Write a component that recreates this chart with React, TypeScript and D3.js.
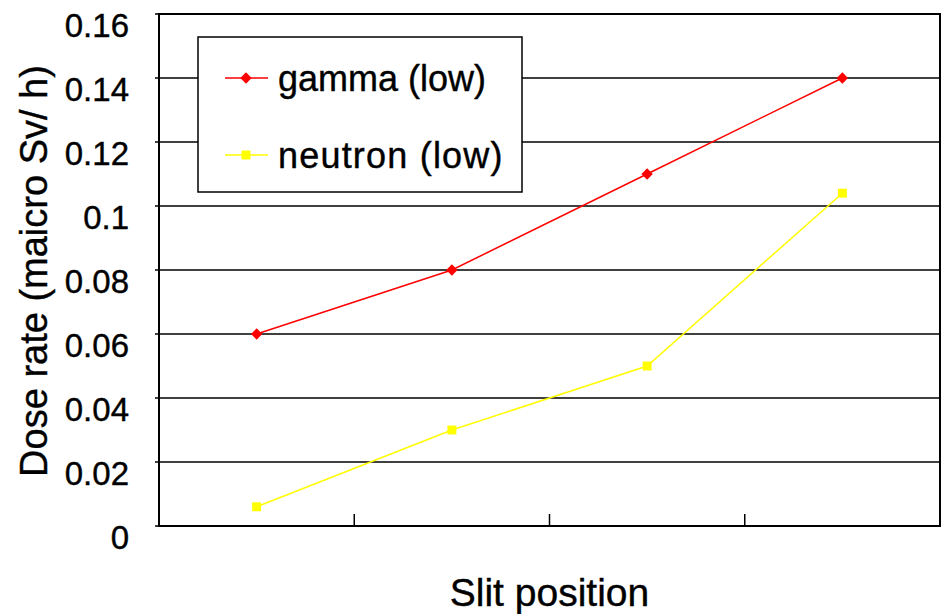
import * as d3 from "d3";

const categories = ["1", "2", "3", "4"];
const gammaLow = [0.06, 0.08, 0.11, 0.14];
const neutronLow = [0.006, 0.03, 0.05, 0.104];
const yTicks = [0, 0.02, 0.04, 0.06, 0.08, 0.1, 0.12, 0.14, 0.16];

const width = 946;
const height = 614;
const margin = { top: 14, right: 6, bottom: 88, left: 159 };
const font = "'Liberation Sans', Arial, sans-serif";

const App = () => {
  const innerW = width - margin.left - margin.right;
  const innerH = height - margin.top - margin.bottom;

  const x = d3.scaleBand<string>().domain(categories).range([0, innerW]);
  const y = d3.scaleLinear().domain([0, 0.16]).range([innerH, 0]);

  const cx = (i: number) => (x(categories[i]) ?? 0) + x.bandwidth() / 2;

  const line = d3
    .line<number>()
    .x((_, i) => cx(i))
    .y((d) => y(d));

  // excel-style diamond: a square turned 45 degrees
  const diamond = d3.symbol().type(d3.symbolSquare).size(64)();
  const square = d3.symbol().type(d3.symbolSquare).size(80)();

  // slight stroke to mimic the heavier text of the original
  const textStyle = { stroke: "#000", strokeWidth: 0.4 };

  return (
    <svg width={width} height={height} style={{ position: "absolute", left: 0, top: 0 }}>
      <rect width={width} height={height} fill="#fff" />
      <g transform={`translate(${margin.left},${margin.top})`}>
        {yTicks.map((t) => (
          <g key={t}>
            <line x1={-4} x2={innerW} y1={y(t)} y2={y(t)} stroke="#000" strokeWidth={1.5} />
            <text
              x={-30}
              y={y(t) + 23}
              textAnchor="end"
              fontFamily={font}
              fontSize={33}
              style={textStyle}
            >
              {t}
            </text>
          </g>
        ))}
        {categories.slice(1).map((c) => (
          <line
            key={c}
            x1={x(c)}
            x2={x(c)}
            y1={innerH}
            y2={innerH - 12}
            stroke="#000"
            strokeWidth={1.5}
          />
        ))}
        <rect
          x={0}
          y={0}
          width={innerW}
          height={innerH}
          fill="none"
          stroke="#000"
          strokeWidth={2}
        />
        <path d={line(gammaLow) ?? ""} fill="none" stroke="#ff0000" strokeWidth={1.5} />
        <path d={line(neutronLow) ?? ""} fill="none" stroke="#ffff00" strokeWidth={1.5} />
        {gammaLow.map((v, i) => (
          <path
            key={`g${i}`}
            d={diamond ?? ""}
            fill="#ff0000"
            transform={`translate(${cx(i)},${y(v)}) rotate(45)`}
          />
        ))}
        {neutronLow.map((v, i) => (
          <path
            key={`n${i}`}
            d={square ?? ""}
            fill="#ffff00"
            transform={`translate(${cx(i)},${y(v)})`}
          />
        ))}
      </g>

      {/* legend */}
      <g transform="translate(198,37)">
        <rect width={324} height={155} fill="#fff" stroke="#000" strokeWidth={1.5} />
        <line x1={27} x2={70} y1={41} y2={41} stroke="#ff0000" strokeWidth={1.5} />
        <path d={diamond ?? ""} fill="#ff0000" transform="translate(48,41) rotate(45)" />
        <text x={80} y={54} fontFamily={font} fontSize={36} style={textStyle}>
          gamma (low)
        </text>
        <line x1={27} x2={70} y1={118} y2={118} stroke="#ffff00" strokeWidth={1.5} />
        <path d={square ?? ""} fill="#ffff00" transform="translate(48,118)" />
        <text
          x={80}
          y={131}
          fontFamily={font}
          fontSize={36}
          letterSpacing={1.2}
          style={textStyle}
        >
          neutron (low)
        </text>
      </g>

      <text
        x={margin.left + innerW / 2}
        y={606}
        textAnchor="middle"
        fontFamily={font}
        fontSize={39}
        style={textStyle}
      >
        Slit position
      </text>
      <text
        transform="translate(47,271) rotate(-90)"
        textAnchor="middle"
        fontFamily={font}
        fontSize={38}
        style={textStyle}
      >
        Dose rate (maicro Sv/ h)
      </text>
    </svg>
  );
};

export default App;
